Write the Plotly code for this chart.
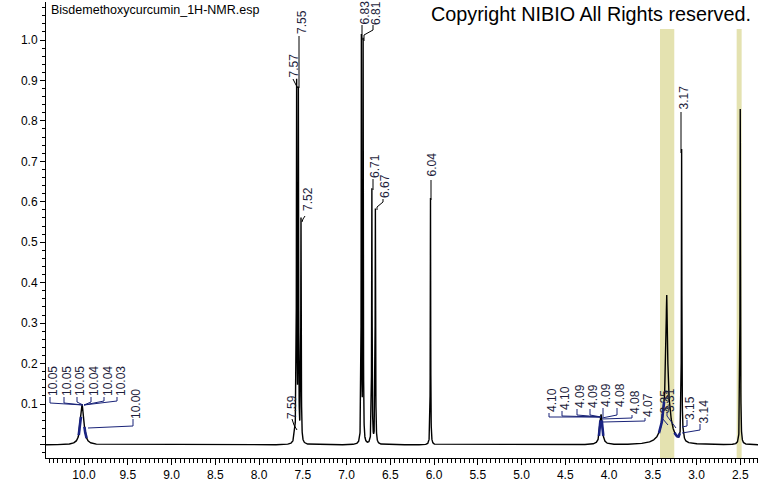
import numpy as np
import plotly.graph_objects as go

# ---------------- data ----------------
peak_ppm    = [10.02, 7.59, 7.57, 7.55, 7.52, 6.83, 6.81, 6.71, 6.67, 6.04, 4.09, 3.34, 3.34, 3.17, 3.15, 2.50]
peak_height = [0.100, 0.020, 0.880, 0.860, 0.550, 1.000, 0.990, 0.630, 0.580, 0.610, 0.075, 0.260, 0.110, 0.720, 0.010, 0.830]
peak_width  = [0.045, 0.020, 0.006, 0.006, 0.006, 0.005, 0.005, 0.006, 0.006, 0.005, 0.032, 0.020, 0.100, 0.006, 0.020, 0.006]

# picked-peak labels (text values)
label_text = ["10.05", "10.05", "10.05", "10.04", "10.04", "10.03", "10.00",
              "7.59", "7.57", "7.55", "7.52",
              "6.83", "6.81", "6.71", "6.67", "6.04",
              "4.10", "4.10", "4.09", "4.09", "4.09", "4.08", "4.08", "4.07",
              "3.35", "3.31", "3.17", "3.15", "3.14"]

x_ticks = [10.0, 9.5, 9.0, 8.5, 8.0, 7.5, 7.0, 6.5, 6.0, 5.5, 5.0, 4.5, 4.0, 3.5, 3.0, 2.5]
x_ticktext = ["10.0", "9.5", "9.0", "8.5", "8.0", "7.5", "7.0", "6.5", "6.0", "5.5", "5.0", "4.5", "4.0", "3.5", "3.0", "2.5"]
y_ticks = [0.0, 0.1, 0.2, 0.3, 0.4, 0.5, 0.6, 0.7, 0.8, 0.9, 1.0]
y_ticktext = ["", "0.1", "0.2", "0.3", "0.4", "0.5", "0.6", "0.7", "0.8", "0.9", "1.0"]

# regions of multiplet picking (drawn in blue)
blue_ranges = [(10.06, 10.035), (9.995, 9.97), (4.115, 4.098), (4.082, 4.065), (3.43, 3.37), (3.25, 3.19)]
# highlighted (solvent) bands, ppm
bands = [(3.417, 3.254), (2.541, 2.484)]

# ---------------- layout helpers (pixel -> data) ----------------
X_PX0, PX_PER_PPM = 84.0, 87.5
Y_PX0, PX_PER_UNIT = 444.5, 404.5
def px2ppm(px):
    return 10.0 - (px - X_PX0) / PX_PER_PPM
def py2val(py):
    return (Y_PX0 - py) / PX_PER_UNIT

# label layout: centre (px) and connector polyline (px)
label_layout = [
    (53, 381, [(50, 397), (50, 403), (83, 405)]),
    (67, 381, [(64, 397), (64, 403), (83, 405)]),
    (80, 381, [(77, 397), (77, 402), (83, 405)]),
    (94, 381, [(91, 397), (91, 402), (84, 405)]),
    (108, 381, [(104, 397), (104, 401), (84, 405)]),
    (121, 381, [(117, 397), (117, 401), (84, 405)]),
    (136, 404, [(133, 419), (133, 426), (88, 428)]),
    (292, 407, [(292, 419), (294, 425), (297, 430)]),
    (293.5, 66, [(293, 79), (296, 85), (298, 88)]),
    (302, 22, [(299, 36), (299, 88)]),
    (308, 199, [(305, 216), (303, 219), (302, 222)]),
    (364.5, 13, [(362, 25), (362, 40)]),
    (376, 13, [(373, 25), (373, 30), (364, 35), (364, 41)]),
    (375, 166, [(373, 179), (373, 190)]),
    (385, 186, [(383, 199), (383, 202), (377, 207), (377, 210)]),
    (431.5, 165, [(431, 180), (431, 200)]),
    (552, 400, [(549, 413), (549, 417), (601, 417)]),
    (565, 398, [(562, 411), (562, 416), (601, 417)]),
    (580, 396, [(577, 409), (577, 415), (601, 417)]),
    (593, 396, [(590, 409), (590, 415), (601, 417)]),
    (606, 395, [(603, 408), (603, 417)]),
    (620, 395, [(617, 408), (617, 415), (602, 418)]),
    (635, 402, [(632, 415), (632, 418), (602, 419)]),
    (648, 405, [(645, 418), (645, 421), (603, 422)]),
    (664.5, 402, [(662, 414), (662, 418), (668, 425)]),
    (670, 400, [(667, 412), (667, 416), (676, 428)]),
    (683.5, 98, [(681, 112), (681, 153)]),
    (690, 408, [(687, 420), (687, 426), (682, 427)]),
    (703.5, 412, [(700, 424), (700, 430), (682, 433)]),
]
navy_labels = set(list(range(0, 7)) + list(range(16, 26)) + [27, 28])

# ---------------- spectrum ----------------
x = np.round(np.arange(2290, 10440) / 1000.0, 3)
y = np.zeros_like(x) - 0.001
for p, h, w in zip(peak_ppm, peak_height, peak_width):
    y += h / (1.0 + ((x - p) / (w / 2.0)) ** 2)

fig = go.Figure()
for x0, x1 in bands:
    fig.add_shape(type="rect", xref="x", yref="y", x0=x0, x1=x1,
                  y0=py2val(458), y1=py2val(29), fillcolor="rgb(228,226,176)",
                  line=dict(width=0), layer="below")

fig.add_trace(go.Scatter(x=x, y=y, mode="lines", line=dict(color="black", width=1.4),
                         hoverinfo="skip", showlegend=False))
for a, b in blue_ranges:
    m = (x <= a) & (x >= b)
    fig.add_trace(go.Scatter(x=x[m], y=y[m], mode="lines",
                             line=dict(color="rgb(25,35,130)", width=2.6),
                             hoverinfo="skip", showlegend=False))

# peak labels
for i, (txt, (cx, cy, pts)) in enumerate(zip(label_text, label_layout)):
    col = "rgb(25,35,120)" if i in navy_labels else "black"
    fig.add_annotation(x=px2ppm(cx), y=py2val(cy), xref="x", yref="y", text=txt,
                       textangle=-90, showarrow=False, xanchor="center", yanchor="middle",
                       font=dict(family="Liberation Sans, Arial", size=12, color="rgb(30,30,60)"))
    path = "M " + " L ".join(f"{px2ppm(px)},{py2val(py)}" for px, py in pts)
    fig.add_shape(type="path", xref="x", yref="y", path=path,
                  line=dict(color=col, width=1))

# titles
fig.add_annotation(x=px2ppm(49), y=py2val(10), xref="x", yref="y",
                   text="Bisdemethoxycurcumin_1H-NMR.esp", showarrow=False,
                   xanchor="left", yanchor="middle",
                   font=dict(family="Liberation Sans, Arial", size=12.5, color="black"))
fig.add_annotation(x=px2ppm(753), y=py2val(14), xref="x", yref="y",
                   text="Copyright NIBIO All Rights reserved.", showarrow=False,
                   xanchor="right", yanchor="middle",
                   font=dict(family="Liberation Sans, Arial", size=19.8, color="black"))
fig.add_annotation(x=px2ppm(402), y=py2val(484), xref="x", yref="y",
                   text="Chemical Shift (ppm)", showarrow=False,
                   xanchor="center", yanchor="middle",
                   font=dict(family="Liberation Sans, Arial", size=12, color="black"))
fig.add_annotation(x=px2ppm(10), y=py2val(226), xref="x", yref="y",
                   text="Normalized Intensity", showarrow=False, textangle=-90,
                   xanchor="center", yanchor="middle",
                   font=dict(family="Liberation Sans, Arial", size=12, color="black"))

fig.update_layout(
    width=760, height=492,
    margin=dict(l=46, r=2, t=2, b=34),
    paper_bgcolor="white", plot_bgcolor="white",
    showlegend=False,
    font=dict(family="Liberation Sans, Arial", size=12, color="black"),
    xaxis=dict(range=[px2ppm(46), px2ppm(758)], showgrid=False, zeroline=False,
               showline=True, linecolor="black", linewidth=1,
               ticks="outside", ticklen=6, tickcolor="black",
               tickmode="array", tickvals=x_ticks, ticktext=x_ticktext,
               tickfont=dict(size=12),
               minor=dict(tickmode="linear", tick0=0, dtick=0.05, ticks="outside",
                          ticklen=4, tickcolor="black", showgrid=False)),
    yaxis=dict(range=[py2val(458), py2val(2)], showgrid=False, zeroline=False,
               showline=True, linecolor="black", linewidth=1,
               ticks="outside", ticklen=5, tickcolor="black",
               tickmode="array", tickvals=y_ticks, ticktext=y_ticktext,
               tickfont=dict(size=12),
               minor=dict(tickmode="linear", tick0=0, dtick=0.02, ticks="outside",
                          ticklen=3, tickcolor="black", showgrid=False)),
)

fig.write_html("out.html", config={"displayModeBar": False},
               post_script="document.body.style.margin='0';document.body.style.overflow='hidden';")
